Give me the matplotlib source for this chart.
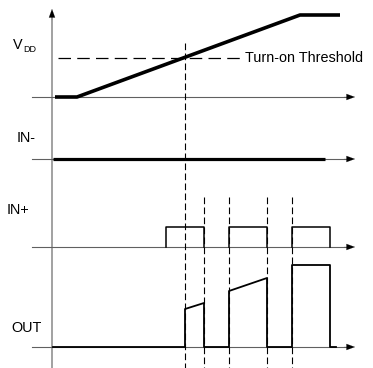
import matplotlib.pyplot as plt

plt.rcParams['font.family'] = ['Liberation Sans', 'DejaVu Sans']

nan = float('nan')

# Diagram laid out in pixel-like units (x to the right, y downward)
x_axis_end = 355
baselines = {'VDD': 97, 'IN-': 159, 'IN+': 247, 'OUT': 347}

# VDD ramp
vdd_t = [55, 77, 300, 340]
vdd_v = [97, 97, 15, 15]
threshold_y = 58
threshold_x = [58, 242]

# IN- stays low
inm_t = [53, 325]
inm_v = [159, 159]

# IN+ pulses (gaps between pulses sit on the axis)
inp_t = [166, 166, 204, 204, nan, 229, 229, 267, 267, nan, 292, 292, 330, 330]
inp_v = [247, 227, 227, 247, nan, 247, 227, 227, 247, nan, 247, 227, 227, 247]

# OUT
out_t = [53, 185, 185, 204, 204, 229, 229, 267, 267, 292, 292, 330, 330, 336]
out_v = [347, 347, 309, 303, 347, 347, 291, 278, 347, 347, 265, 265, 347, 347]

# dashed guides
guide_main = (185, 43)
guides_x = [204, 229, 267, 292]
guides_top = 197

fig = plt.figure(figsize=(3.73, 3.68), dpi=100)
ax = fig.add_axes([0, 0, 1, 1])
ax.set_xlim(0, 373)
ax.set_ylim(368, 0)
ax.axis('off')

# vertical axis
ax.plot([52, 52], [368, 16], color='#888888', lw=1.1, zorder=2)
ax.annotate('', xy=(52, 9), xytext=(52, 20),
            arrowprops=dict(arrowstyle='-|>,head_length=0.6,head_width=0.22',
                            color='black', lw=0.1, shrinkA=0, shrinkB=0))

# horizontal axes
for name, y in baselines.items():
    ax.plot([32, 346], [y, y], color='#606060', lw=0.8, zorder=2)
    ax.annotate('', xy=(x_axis_end, y), xytext=(344, y),
                arrowprops=dict(arrowstyle='-|>,head_length=0.6,head_width=0.22',
                                color='black', lw=0.1, shrinkA=0, shrinkB=0))

# dashed guides
ax.plot([guide_main[0]] * 2, [guide_main[1], 368], color='black', lw=0.8,
        dashes=(6, 3), zorder=3)
for gx in guides_x:
    ax.plot([gx, gx], [guides_top, 368], color='black', lw=0.8,
            dashes=(6, 3), zorder=3)

# threshold
ax.plot(threshold_x, [threshold_y] * 2, color='black', lw=0.9,
        dashes=(10, 5), zorder=3)
ax.text(245, threshold_y, 'Turn-on Threshold', fontsize=10.4, va='center', ha='left')

# waveforms
ax.plot(vdd_t, vdd_v, color='black', lw=2.6, zorder=4, solid_capstyle='butt')
ax.plot(inm_t, inm_v, color='black', lw=2.3, zorder=4, solid_capstyle='butt')
ax.plot(inp_t, inp_v, color='black', lw=1.1, zorder=4)
ax.plot(out_t, out_v, color='black', lw=1.3, zorder=4)

# labels
ax.text(13, 49, 'V', fontsize=10.4, ha='left', va='baseline')
ax.text(23, 52.5, 'DD', fontsize=6.5, ha='left', va='baseline')
ax.text(17, 138, 'IN-', fontsize=10.4, ha='left', va='center')
ax.text(7, 210, 'IN+', fontsize=10.4, ha='left', va='center')
ax.text(11, 328, 'OUT', fontsize=10.4, ha='left', va='center')

fig.savefig('out.png', dpi=100)
